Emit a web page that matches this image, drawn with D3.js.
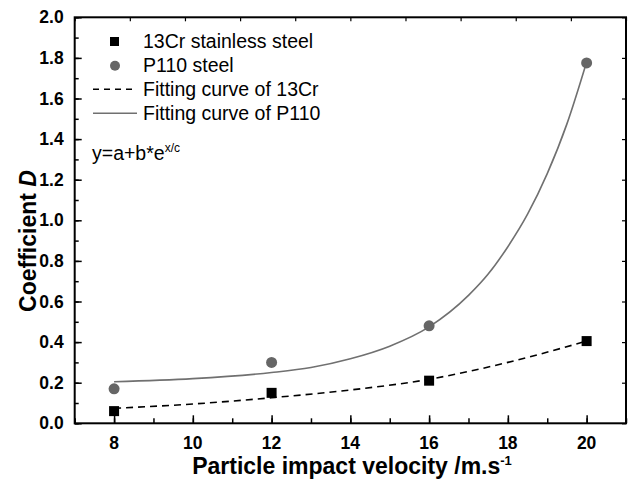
<!DOCTYPE html>
<html>
<head>
<meta charset="utf-8">
<script src="https://d3js.org/d3.v7.min.js"></script>
<style>
  body { margin: 0; background: #fff; }
  text { font-family: "Liberation Sans", Arial, sans-serif; }
</style>
</head>
<body>
<svg width="629" height="479"></svg>
<script>
// measured data points
var velocity = [8, 12, 16, 20];
var cr13 = [0.06, 0.15, 0.21, 0.405];
var p110 = [0.17, 0.30, 0.48, 1.775];

// fitting curves
var fitX13 = [8, 10, 12, 14, 16, 18, 20];
var fit13 = [0.074, 0.095, 0.126, 0.164, 0.217, 0.30, 0.405];
var fitXP = [8, 10, 12, 13, 14, 15, 16, 17, 17.5, 18, 18.5, 19, 19.5, 20];
var fitP = [0.205, 0.22, 0.25, 0.275, 0.318, 0.38, 0.475, 0.63, 0.735, 0.87, 1.03, 1.23, 1.475, 1.78];

var xTicks = [8, 10, 12, 14, 16, 18, 20];
var yTicks = [0, 0.2, 0.4, 0.6, 0.8, 1.0, 1.2, 1.4, 1.6, 1.8, 2.0];

var svg = d3.select("svg");
var pLeft = 74.7, pRight = 626, pTop = 17.3, pBottom = 423.3;

var x = d3.scaleLinear().domain([7, 21]).range([pLeft, pRight]);
var y = d3.scaleLinear().domain([0, 2]).range([pBottom, pTop]);

// minor + major ticks, pointing inward
var gx = svg.append("g").attr("transform", "translate(0," + pBottom + ")");
gx.call(d3.axisBottom(x).tickValues(d3.range(7, 22, 1)).tickSize(-5).tickFormat(""));
gx.append("g").call(d3.axisBottom(x).tickValues(xTicks).tickSize(-8).tickFormat(""));
gx.selectAll("path.domain").remove();
gx.selectAll("line").attr("stroke", "#000").attr("stroke-width", 1.5);

svg.append("g").selectAll("text").data(xTicks).enter().append("text")
  .attr("x", function(d) { return x(d); })
  .attr("y", pBottom + 26)
  .attr("text-anchor", "middle")
  .attr("font-size", "17.5px").attr("font-weight", "bold")
  .text(function(d) { return d; });

var gy = svg.append("g").attr("transform", "translate(" + pLeft + ",0)");
gy.call(d3.axisLeft(y).tickValues(d3.range(0, 2.01, 0.1)).tickSize(-4).tickFormat(""));
gy.append("g").call(d3.axisLeft(y).tickValues(yTicks).tickSize(-7).tickFormat(""));
gy.selectAll("path.domain").remove();
gy.selectAll("line").attr("stroke", "#000").attr("stroke-width", 1.5);

svg.append("g").selectAll("text").data(yTicks).enter().append("text")
  .attr("x", pLeft - 11)
  .attr("y", function(d) { return y(d) + 6; })
  .attr("text-anchor", "end")
  .attr("font-size", "17.5px").attr("font-weight", "bold")
  .text(function(d) { return d3.format(".1f")(d); });

// right axis ticks
var gr = svg.append("g").attr("transform", "translate(" + pRight + ",0)");
gr.call(d3.axisRight(y).tickValues(yTicks).tickSize(-4).tickFormat(""));
gr.selectAll("path.domain").remove();
gr.selectAll("line").attr("stroke", "#000").attr("stroke-width", 1.2);

// top axis ticks
var xTop = d3.scaleLinear().domain([0, 10]).range([pLeft, pRight]);
var gt = svg.append("g").attr("transform", "translate(0," + pTop + ")");
gt.call(d3.axisTop(xTop).ticks(10).tickSize(-4).tickFormat(""));
gt.selectAll("path.domain").remove();
gt.selectAll("line").attr("stroke", "#000").attr("stroke-width", 1.2);

// frame
svg.append("rect")
  .attr("x", pLeft).attr("y", pTop)
  .attr("width", pRight - pLeft).attr("height", pBottom - pTop)
  .attr("fill", "none").attr("stroke", "#000").attr("stroke-width", 2);

// fitting curves
var line = d3.line().curve(d3.curveMonotoneX)
  .x(function(d) { return x(d[0]); })
  .y(function(d) { return y(d[1]); });

svg.append("path")
  .datum(d3.zip(fitXP, fitP))
  .attr("d", line)
  .attr("fill", "none").attr("stroke", "#707070").attr("stroke-width", 1.6);

svg.append("path")
  .datum(d3.zip(fitX13, fit13))
  .attr("d", line)
  .attr("fill", "none").attr("stroke", "#000").attr("stroke-width", 1.6)
  .attr("stroke-dasharray", "7,5");

// points
svg.append("g").selectAll("circle").data(d3.zip(velocity, p110)).enter().append("circle")
  .attr("cx", function(d) { return x(d[0]); })
  .attr("cy", function(d) { return y(d[1]); })
  .attr("r", 5.5)
  .attr("fill", "#666");

svg.append("g").selectAll("rect").data(d3.zip(velocity, cr13)).enter().append("rect")
  .attr("x", function(d) { return x(d[0]) - 5; })
  .attr("y", function(d) { return y(d[1]) - 5; })
  .attr("width", 10).attr("height", 10)
  .attr("fill", "#000");

// legend
var lg = svg.append("g");
lg.append("rect").attr("x", 110).attr("y", 37).attr("width", 9).attr("height", 9).attr("fill", "#000");
lg.append("circle").attr("cx", 115).attr("cy", 65.7).attr("r", 5).attr("fill", "#666");
lg.append("line").attr("x1", 93).attr("x2", 137).attr("y1", 89.3).attr("y2", 89.3)
  .attr("stroke", "#000").attr("stroke-width", 1.4).attr("stroke-dasharray", "6,5");
lg.append("line").attr("x1", 93).attr("x2", 137).attr("y1", 113.3).attr("y2", 113.3)
  .attr("stroke", "#707070").attr("stroke-width", 1.6);

var legendNames = ["13Cr stainless steel", "P110 steel", "Fitting curve of 13Cr", "Fitting curve of P110"];
lg.selectAll("text").data(legendNames).enter().append("text")
  .attr("x", 143)
  .attr("y", function(d, i) { return 48 + i * 24; })
  .attr("font-size", "19.5px")
  .text(function(d) { return d; });

var eq = svg.append("text").attr("x", 92).attr("y", 159.5).attr("font-size", "19.5px");
eq.append("tspan").text("y=a+b*e");
eq.append("tspan").attr("dy", -8).attr("font-size", "12px").text("x/c");

// axis titles
var xt = svg.append("text")
  .attr("x", 352).attr("y", 474)
  .attr("text-anchor", "middle")
  .attr("font-size", "23px").attr("font-weight", "bold");
xt.append("tspan").text("Particle impact velocity /m.s");
xt.append("tspan").attr("dy", -9).attr("font-size", "13px").text("-1");

var yt = svg.append("text")
  .attr("transform", "translate(36,241) rotate(-90)")
  .attr("text-anchor", "middle")
  .attr("font-size", "23px").attr("font-weight", "bold");
yt.append("tspan").text("Coefficient ");
yt.append("tspan").attr("font-style", "italic").text("D");
</script>
</body>
</html>
